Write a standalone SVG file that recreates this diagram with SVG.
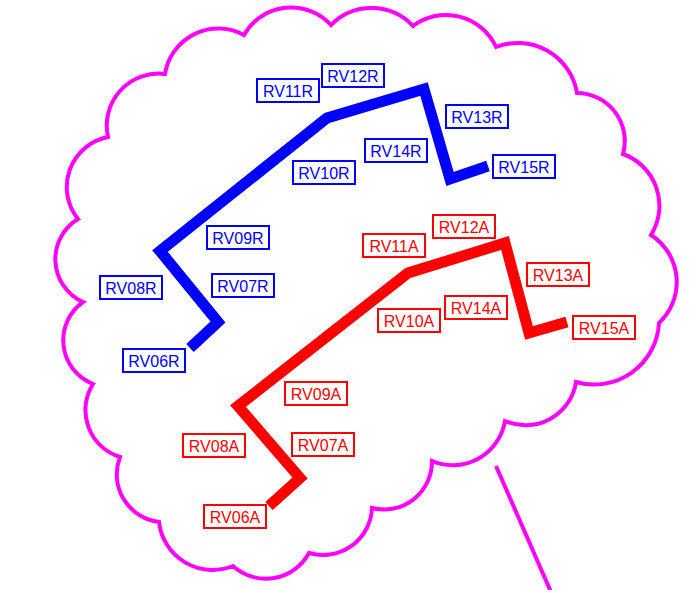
<svg xmlns="http://www.w3.org/2000/svg" width="700" height="590" viewBox="0 0 700 590">
<style>
.cloud{fill:none;stroke:#ff00ff;stroke-width:4}
.route{fill:none;stroke-width:11;stroke-linejoin:miter;stroke-linecap:butt}
.b{stroke:#0000ff}
.r{stroke:#ff0000}
.box{fill:#ffffff;stroke-width:2}
.lb{font-family:"Liberation Sans",Arial,sans-serif;font-size:16px;text-anchor:middle}
.bt{fill:#0000ff}
.rt{fill:#ff0000}
</style>
<rect width="700" height="590" fill="#ffffff"/>
<g id="cloud">
<path class="cloud" d="M331,25 A57,57 0 0 1 413,26 A55,55 0 0 1 496,47 A60,60 0 0 1 577,93 A48,48 0 0 1 623,154 A55,55 0 0 1 651,235 A56,56 0 0 1 659,323 A65,65 0 0 1 576,382 A51,51 0 0 1 505,421 A53,53 0 0 1 432,461 A48,48 0 0 1 372,508 A49,49 0 0 1 309,553 A49,49 0 0 1 233,566 A54,54 0 0 1 159,522 A48,48 0 0 1 120,457 A49,49 0 0 1 93,384 A47,47 0 0 1 83,302 A47,47 0 0 1 78,219 A51,51 0 0 1 108,137 A52,52 0 0 1 165,74 A54,54 0 0 1 244,35 A54,54 0 0 1 331,25 Z"/>
<line class="cloud" x1="496" y1="466" x2="551" y2="592"/>
</g>
<g id="connectors">
<polyline class="route b" points="190,348 218,322 160,251 327,118 424,89 450,179 488,166"/>
<polyline class="route r" points="269,506 300,478 238,406 408,273 505,243 529,333 567,322"/>
</g>
<g id="RV06R"><rect class="box b" x="123" y="349" width="62" height="23"/><text class="lb bt" x="154" y="366.5">RV06R</text></g>
<g id="RV07R"><rect class="box b" x="212" y="274" width="62" height="23"/><text class="lb bt" x="243" y="291.5">RV07R</text></g>
<g id="RV08R"><rect class="box b" x="100" y="276" width="62" height="23"/><text class="lb bt" x="131" y="293.5">RV08R</text></g>
<g id="RV09R"><rect class="box b" x="207" y="226" width="62" height="23"/><text class="lb bt" x="238" y="243.5">RV09R</text></g>
<g id="RV10R"><rect class="box b" x="293" y="161" width="62" height="23"/><text class="lb bt" x="324" y="178.5">RV10R</text></g>
<g id="RV11R"><rect class="box b" x="257" y="79" width="62" height="23"/><text class="lb bt" x="288" y="96.5">RV11R</text></g>
<g id="RV12R"><rect class="box b" x="322" y="64" width="62" height="23"/><text class="lb bt" x="353" y="81.5">RV12R</text></g>
<g id="RV13R"><rect class="box b" x="446" y="105" width="62" height="23"/><text class="lb bt" x="477" y="122.5">RV13R</text></g>
<g id="RV14R"><rect class="box b" x="365" y="139" width="62" height="23"/><text class="lb bt" x="396" y="156.5">RV14R</text></g>
<g id="RV15R"><rect class="box b" x="493" y="155" width="62" height="23"/><text class="lb bt" x="524" y="172.5">RV15R</text></g>
<g id="RV06A"><rect class="box r" x="204" y="505" width="62" height="23"/><text class="lb rt" x="235" y="522.5">RV06A</text></g>
<g id="RV07A"><rect class="box r" x="292" y="433" width="62" height="23"/><text class="lb rt" x="323" y="450.5">RV07A</text></g>
<g id="RV08A"><rect class="box r" x="183" y="434" width="62" height="23"/><text class="lb rt" x="214" y="451.5">RV08A</text></g>
<g id="RV09A"><rect class="box r" x="285" y="382" width="62" height="23"/><text class="lb rt" x="316" y="399.5">RV09A</text></g>
<g id="RV10A"><rect class="box r" x="378" y="309" width="62" height="23"/><text class="lb rt" x="409" y="326.5">RV10A</text></g>
<g id="RV11A"><rect class="box r" x="363" y="234" width="62" height="23"/><text class="lb rt" x="394" y="251.5">RV11A</text></g>
<g id="RV12A"><rect class="box r" x="433" y="215" width="62" height="23"/><text class="lb rt" x="464" y="232.5">RV12A</text></g>
<g id="RV13A"><rect class="box r" x="527" y="263" width="62" height="23"/><text class="lb rt" x="558" y="280.5">RV13A</text></g>
<g id="RV14A"><rect class="box r" x="445" y="296" width="62" height="23"/><text class="lb rt" x="476" y="313.5">RV14A</text></g>
<g id="RV15A"><rect class="box r" x="573" y="316" width="62" height="23"/><text class="lb rt" x="604" y="333.5">RV15A</text></g>
</svg>
